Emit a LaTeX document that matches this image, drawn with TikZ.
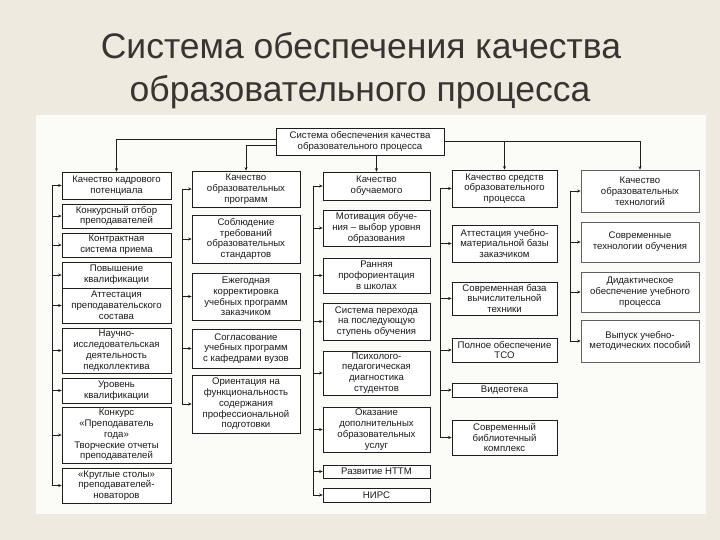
\documentclass[tikz,border=0pt]{standalone}
\usepackage{fontspec}
\setmainfont{Liberation Sans}
\usetikzlibrary{arrows.meta}
\definecolor{bgc}{HTML}{EEEADF}
\definecolor{panelc}{HTML}{FBFBF8}
\definecolor{linec}{HTML}{1E1E1E}
\definecolor{txtc}{HTML}{1A1A1A}
\definecolor{titlec}{HTML}{3B3232}
\begin{document}
\begin{tikzpicture}[x=1pt,y=-1pt,
 bx/.style={draw=linec, line width=0.7pt, fill=white, align=center, inner sep=1pt,
   font=\fontsize{9.6}{10.8}\selectfont, text=txtc},
 c1box/.style={bx, minimum width=109pt},
 c2box/.style={bx, minimum width=108pt},
 c3box/.style={bx, minimum width=107pt},
 c4box/.style={bx, minimum width=105pt},
 c5box/.style={bx, minimum width=118pt, draw=linec!70},
 ln/.style={draw=linec, line width=0.7pt},
 ar/.style={ln, -{Stealth[length=3.5pt,width=3pt]}},
 ttl/.style={font=\fontsize{35.5}{40}\selectfont, text=titlec, inner sep=0pt},
]
\useasboundingbox (0,0) rectangle (720,540);
\fill[bgc] (0,0) rectangle (720,540);
\fill[panelc] (36,115) rectangle (706,514);

\node[ttl] (t1) at (361,46) {Система обеспечения качества};
\node[ttl] (t2) at (360,92) {образовательного процесса};

\node[bx, minimum width=168pt, minimum height=27pt] (top) at (360,141.5) {Система обеспечения качества\\образовательного процесса};

% column 1
\node[c1box, minimum height=27pt] (a1) at (116.5,185.5) {Качество кадрового\\потенциала};
\node[c1box, minimum height=24pt] (a2) at (116.5,216) {Конкурсный отбор\\преподавателей};
\node[c1box, minimum height=24pt] (a3) at (116.5,245) {Контрактная\\система приема};
\node[c1box, minimum height=26pt] (a4) at (116.5,275) {Повышение\\квалификации};
\node[c1box, minimum height=35pt] (a5) at (116.5,305.5) {Аттестация\\преподавательского\\состава};
\node[c1box, minimum height=45pt] (a6) at (116.5,350.5) {Научно-\\исследовательская\\деятельность\\педколлектива};
\node[c1box, minimum height=25pt] (a7) at (116.5,390.5) {Уровень\\квалификации};
\node[c1box, minimum height=56pt] (a8) at (116.5,435) {Конкурс\\«Преподаватель\\года»\\Творческие отчеты\\преподавателей};
\node[c1box, minimum height=35pt] (a9) at (116.5,485.5) {«Круглые столы»\\преподавателей-\\новаторов};

% column 2
\node[c2box, minimum height=36pt] (b1) at (246,189) {Качество\\образовательных\\программ};
\node[c2box, minimum height=48pt] (b2) at (246,239) {Соблюдение\\требований\\образовательных\\стандартов};
\node[c2box, minimum height=47pt] (b3) at (246,296.5) {Ежегодная\\корректировка\\учебных программ\\заказчиком};
\node[c2box, minimum height=39pt] (b4) at (246,348.5) {Согласование\\учебных программ\\с кафедрами вузов};
\node[c2box, minimum height=58pt] (b5) at (246,404) {Ориентация на\\функциональность\\содержания\\профессиональной\\подготовки};

% column 3
\node[c3box, minimum height=28pt] (c1) at (376.5,186) {Качество\\обучаемого};
\node[c3box, minimum height=36pt] (c2) at (376.5,228) {Мотивация обуче-\\ния – выбор уровня\\образования};
\node[c3box, minimum height=35pt] (c3) at (376.5,275.5) {Ранняя\\профориентация\\в школах};
\node[c3box, minimum height=37pt] (c4) at (376.5,321.5) {Система перехода\\на последующую\\ступень обучения};
\node[c3box, minimum height=44pt] (c5) at (376.5,373) {Психолого-\\педагогическая\\диагностика\\студентов};
\node[c3box, minimum height=45pt] (c6) at (376.5,429.5) {Оказание\\дополнительных\\образовательных\\услуг};
\node[c3box, minimum height=13pt] (c7) at (376.5,471.5) {Развитие НТТМ};
\node[c3box, minimum height=14pt] (c8) at (376.5,495) {НИРС};

% column 4
\node[c4box, minimum height=37pt] (d1) at (504.5,188.5) {Качество средств\\образовательного\\процесса};
\node[c4box, minimum height=37pt] (d2) at (504.5,243.5) {Аттестация учебно-\\материальной базы\\заказчиком};
\node[c4box, minimum height=33pt] (d3) at (504.5,298.5) {Современная база\\вычислительной\\техники};
\node[c4box, minimum height=24pt] (d4) at (504.5,350) {Полное обеспечение\\ТСО};
\node[c4box, minimum height=14pt] (d5) at (504.5,390) {Видеотека};
\node[c4box, minimum height=35pt] (d6) at (504.5,437.5) {Современный\\библиотечный\\комплекс};

% column 5
\node[c5box, minimum height=42pt] (e1) at (640,191) {Качество\\образовательных\\технологий};
\node[c5box, minimum height=40pt] (e2) at (640,242) {Современные\\технологии обучения};
\node[c5box, minimum height=40pt] (e3) at (640,292) {Дидактическое\\обеспечение учебного\\процесса};
\node[c5box, minimum height=42pt] (e4) at (640,341) {Выпуск учебно-\\методических пособий};

% spines
\coordinate (s1) at (52,0);
\coordinate (s2) at (182,0);
\coordinate (s3) at (313,0);
\coordinate (s4) at (440,0);
\coordinate (s5) at (570,0);

% top connectors
\draw[ar] ([yshift=2.5pt]top.west) -| (a1.north);
\draw[ar] ([yshift=-3.5pt]top.west) -| (b1.north);
\draw[ar] (top.south -| c1.north) -- (c1.north);
\draw[ar] (top.east) -| (d1.north);
\draw[ar] (top.east) -| (e1.north);

% column 1 branches
\draw[ln] (a1.west -| s1) -- (a9.west -| s1);
\foreach \n in {a1,a2,a3,a4,a5,a6,a7,a8,a9}
  \draw[ar] (\n.west -| s1) -- (\n.west);
% column 2 branches
\draw[ln] (b1.west -| s2) -- (b5.west -| s2);
\foreach \n in {b1,b2,b3,b4,b5}
  \draw[ar] (\n.west -| s2) -- (\n.west);
% column 3 branches
\draw[ln] (c1.west -| s3) -- (c8.west -| s3);
\foreach \n in {c1,c2,c3,c4,c5,c6,c7,c8}
  \draw[ar] (\n.west -| s3) -- (\n.west);
% column 4 branches
\draw[ln] (d1.west -| s4) -- (d6.west -| s4);
\foreach \n in {d1,d2,d3,d4,d5,d6}
  \draw[ar] (\n.west -| s4) -- (\n.west);
% column 5 branches
\draw[ln] (e1.west -| s5) -- (e4.west -| s5);
\foreach \n in {e1,e2,e3,e4}
  \draw[ar] (\n.west -| s5) -- (\n.west);
\end{tikzpicture}
\end{document}
